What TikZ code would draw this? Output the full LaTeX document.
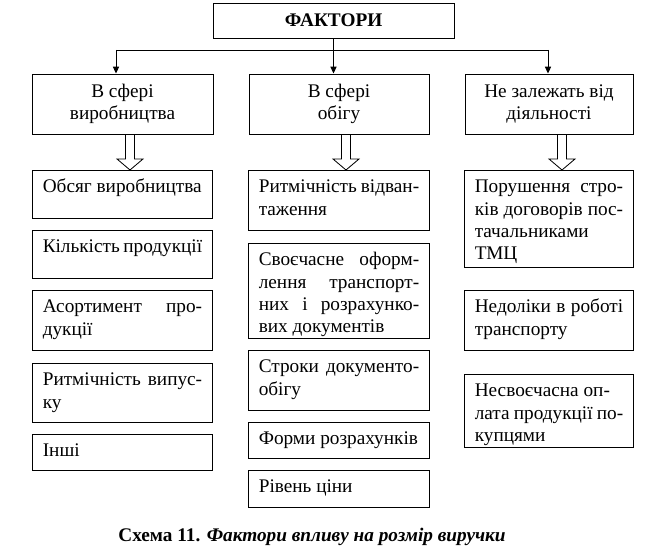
\documentclass[tikz,border=0pt]{standalone}
\usepackage{fontspec}
\setmainfont{Liberation Serif}
\usetikzlibrary{positioning, calc, arrows.meta}
\newlength{\unitpx}
\setlength{\unitpx}{0.727pt}
\tikzstyle{group}=[draw, line width=0.7pt, align=center, inner sep=0pt,
  font=\fontsize{14}{16.1}\selectfont]
\tikzstyle{factor}=[draw, line width=0.7pt, anchor=north west,
  inner xsep=7.5pt, inner ysep=5pt, font=\fontsize{14}{16.1}\selectfont]
\tikzstyle{bus}=[line width=0.7pt, -{Triangle[length=5pt,width=4.5pt]}]
% box text: width and height in px, text at the top
\newcommand{\cell}[3]{\parbox[t][\dimexpr#2\unitpx-10pt\relax][t]{\dimexpr#1\unitpx-15pt\relax}{\strut#3}}
\newcommand{\full}[1]{\makebox[\linewidth][s]{#1}}

\begin{document}
\begin{tikzpicture}[x=0.727pt,y=-0.727pt]
        \useasboundingbox (0,0) rectangle (646,549);

        % FACTORS
        \node[group, minimum width=241*\unitpx, minimum height=35*\unitpx] (factors) at (333.5,20.5) {\textbf{ФАКТОРИ}};

        % groups
        \node[group, minimum width=181*\unitpx, minimum height=60*\unitpx] (prod) at (122.5,104) {В сфері\\виробництва};
        \node[group, minimum width=180*\unitpx, minimum height=60*\unitpx] (circ) at (339,104) {В сфері\\обігу};
        \node[group, minimum width=168*\unitpx, minimum height=60*\unitpx] (indep) at (549,104) {Не залежать від\\діяльності};

        % production branch
        \node[factor] (obsyag) at (32,170) {\cell{180}{48}{Обсяг виробництва}};
        \node[factor] (kilkist) at (32,230) {\cell{180}{48}{Кількість продукції}};
        \node[factor] (asort) at (32,290) {\cell{180}{60}{\full{Асортимент про-}\\дукції}};
        \node[factor] (vypusk) at (32,363) {\cell{180}{59}{\full{Ритмічність випус-}\\ку}};
        \node[factor] (inshi) at (32,434) {\cell{180}{36}{Інші}};

        % circulation branch
        \node[factor] (vidvan) at (248,170) {\cell{181}{60}{\full{Ритмічність відван-}\\таження}};
        \node[factor] (svoech) at (248,243) {\cell{181}{95}{\full{Своєчасне оформ-}\\\full{лення транспорт-}\\\full{них і розрахунко-}\\вих документів}};
        \node[factor] (stroky) at (248,350) {\cell{181}{60}{\full{Строки документо-}\\обігу}};
        \node[factor] (formy) at (248,422) {\cell{181}{36}{Форми розрахунків}};
        \node[factor] (riven) at (248,470) {\cell{181}{37}{Рівень ціни}};

        % independent branch
        \node[factor] (porush) at (464,170) {\cell{169}{97}{\full{Порушення стро-}\\\full{ків договорів пос-}\\тачальниками\\ТМЦ}};
        \node[factor] (nedoliky) at (464,290) {\cell{169}{60}{\full{Недоліки в роботі}\\транспорту}};
        \node[factor] (oplata) at (464,374) {\cell{169}{73}{Несвоєчасна оп-\\\full{лата продукції по-}\\купцями}};

        % caption
        \node[font=\fontsize{14}{16.1}\selectfont] (caption) at (312,537) {\textbf{Схема 11.} \textbf{\textit{Фактори впливу на розмір виручки}}};

        % thin arrows
        \coordinate (busL) at (116,50);
        \coordinate (busR) at (548,50);
        \draw[line width=0.7pt] (factors.south) -- (factors.south |- busL);
        \draw[line width=0.7pt] (busL) -- (busR);
        \path[bus]
        (busL) edge (busL |- prod.north)
        (factors.south |- busL) edge (factors.south |- circ.north)
        (busR) edge (busR |- indep.north);

        % hollow arrows
        \foreach \from/\to/\x in {prod/obsyag/130, circ/vidvan/346, indep/porush/562}{
          \coordinate (c) at (\x,0);
          \coordinate (a) at (\from.south -| c);
          \coordinate (b) at (\to.north -| c);
          \draw[line width=0.6pt] ($(a)+(-4.5,0)$) -- ($(b)+(-4.5,-11)$) -- ($(b)+(-13,-11)$) -- (b)
            -- ($(b)+(13,-11)$) -- ($(b)+(4.5,-11)$) -- ($(a)+(4.5,0)$);
        }
    \end{tikzpicture}
\end{document}
